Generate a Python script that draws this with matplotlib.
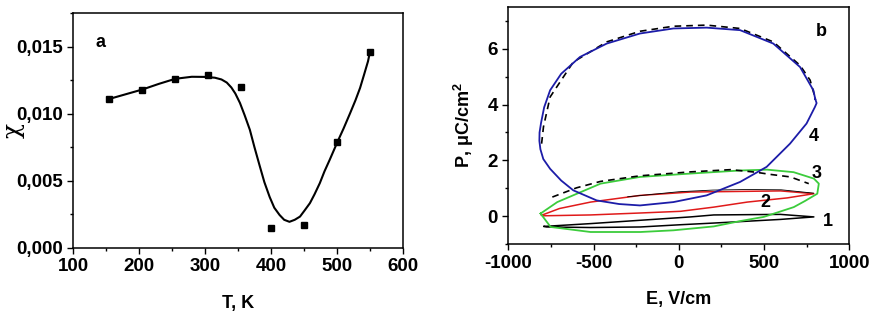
import matplotlib
matplotlib.use('Agg')
import matplotlib.pyplot as plt
from matplotlib.ticker import MultipleLocator, FuncFormatter

plt.rcParams['font.family'] = ['Liberation Sans', 'DejaVu Sans']
plt.rcParams['font.weight'] = 'bold'
plt.rcParams['axes.unicode_minus'] = False
plt.rcParams['mathtext.fontset'] = 'custom'
plt.rcParams['mathtext.rm'] = 'Liberation Sans:bold'
plt.rcParams['mathtext.bf'] = 'Liberation Sans:bold'

# panel a: susceptibility vs temperature
T_pts = [155, 205, 255, 305, 355, 400, 450, 500, 550]
chi_pts = [0.0111, 0.0118, 0.0126, 0.0129, 0.0120, 0.00147, 0.00172, 0.0079, 0.0146]

T_fit = [155, 180, 205, 230, 255, 280, 300, 315, 325, 333, 340, 346, 353, 360, 368, 375,
         383, 390, 398, 405, 413, 420, 428, 436, 444, 451, 459, 466, 474, 481, 489, 501,
         510, 520, 528, 535, 541, 547, 550]
chi_fit = [0.0111, 0.01145, 0.0118, 0.01222, 0.0126, 0.01275, 0.01274, 0.01268, 0.01255,
           0.01232, 0.01195, 0.0115, 0.0108, 0.0099, 0.0088, 0.0075, 0.0061, 0.0049,
           0.0038, 0.0030, 0.00246, 0.0021, 0.00195, 0.0021, 0.00234, 0.0028, 0.00334,
           0.0040, 0.00483, 0.0057, 0.00657, 0.00793, 0.0089, 0.01005, 0.0110, 0.01192,
           0.0129, 0.0139, 0.0146]

# panel b: hysteresis loops (E in V/cm, P in uC/cm^2)
E1 = [-790, -518, -225, 69, 205, 596, 792, 596, 205, 10, -225, -518, -775, -790]
P1 = [-0.36, -0.26, -0.14, -0.02, 0.05, 0.07, -0.02, -0.11, -0.24, -0.30, -0.38, -0.40, -0.38, -0.36]

E2 = [-805, -700, -518, -225, 69, 205, 596, 792, 636, 401, 205, 10, -225, -518, -793, -805]
P2 = [0.04, 0.28, 0.51, 0.75, 0.87, 0.88, 0.91, 0.81, 0.66, 0.51, 0.33, 0.18, 0.12, 0.05, 0.02, 0.04]
E2_ref = [-300, 0, 200, 400, 600, 790]
P2_ref = [0.70, 0.88, 0.94, 0.96, 0.95, 0.83]

E3 = [-811, -713, -459, -228, 67, 359, 518, 673, 792, 821, 812, 740, 674, 498, 359,
      205, -32, -225, -518, -752, -811]
P3 = [0.10, 0.51, 1.17, 1.41, 1.53, 1.64, 1.67, 1.58, 1.35, 1.17, 0.81, 0.55, 0.33,
      -0.02, -0.17, -0.36, -0.50, -0.56, -0.56, -0.38, 0.10]
E3_ref = [-742, -600, -459, -228, 67, 303, 450, 537, 654, 762]
P3_ref = [0.69, 1.02, 1.25, 1.45, 1.59, 1.67, 1.58, 1.50, 1.41, 1.17]

E4 = [800, 789, 711, 554, 359, 163, -32, -228, -423, -580, -690, -755, -790, -808, -817,
      -818, -812, -795, -755, -690, -619, -482, -350, -228, -32, 163, 359, 515, 652, 749,
      798, 808, 800]
P4 = [4.2, 4.51, 5.34, 6.18, 6.66, 6.75, 6.72, 6.54, 6.18, 5.70, 5.1, 4.51, 3.9, 3.35, 3.0,
      2.7, 2.4, 2.05, 1.7, 1.28, 0.93, 0.57, 0.44, 0.39, 0.51, 0.75, 1.23, 1.77, 2.60, 3.32,
      3.91, 4.05, 4.2]
E4_ref = [-805, -794, -755, -619, -423, -228, -32, 163, 359, 554, 711, 770, 798]
P4_ref = [2.6, 3.2, 4.27, 5.52, 6.24, 6.62, 6.8, 6.84, 6.72, 6.24, 5.4, 4.87, 4.27]


def comma(x, pos):
    return ('%.3f' % x).replace('.', ',')


fig = plt.figure(figsize=(8.73, 3.16), dpi=100)
ax1 = fig.add_axes([0.0836, 0.2152, 0.378, 0.7437])
ax2 = fig.add_axes([0.5823, 0.2269, 0.3906, 0.752])

ax1.plot(T_fit, chi_fit, color='black', lw=1.5)
ax1.plot(T_pts, chi_pts, 's', color='black', ms=4.5)
ax1.set_xlim(100, 600)
ax1.set_ylim(0, 0.0175)
ax1.xaxis.set_major_locator(MultipleLocator(100))
ax1.xaxis.set_minor_locator(MultipleLocator(50))
ax1.yaxis.set_major_locator(MultipleLocator(0.005))
ax1.yaxis.set_minor_locator(MultipleLocator(0.0025))
ax1.yaxis.set_major_formatter(FuncFormatter(comma))
ax1.set_xlabel('T, K', fontsize=13, fontweight='bold', labelpad=14)
ax1.text(-0.18, 0.5, 'χ', transform=ax1.transAxes, rotation=90, fontsize=18,
         fontweight='normal', family='DejaVu Serif', ha='center', va='center')
ax1.text(141, 0.0153, 'a', fontsize=13, fontweight='bold', ha='center', va='center')

ax2.plot(E1, P1, color='black', lw=1.1)
ax2.plot(E2, P2, color='#e01a1a', lw=1.1)
ax2.plot(E2_ref, P2_ref, color='black', lw=0.6)
ax2.plot(E3, P3, color='#3ccc3c', lw=1.3)
ax2.plot(E3_ref, P3_ref, color='black', lw=1.2, ls=(0, (4, 3)))
ax2.plot(E4_ref, P4_ref, color='black', lw=1.2, ls=(0, (4, 3)))
ax2.plot(E4, P4, color='#1c1ca8', lw=1.3)
ax2.set_xlim(-1000, 1000)
ax2.set_ylim(-1, 7.5)
ax2.xaxis.set_major_locator(MultipleLocator(500))
ax2.xaxis.set_minor_locator(MultipleLocator(250))
ax2.yaxis.set_major_locator(MultipleLocator(2))
ax2.yaxis.set_minor_locator(MultipleLocator(1))
ax2.set_xlabel('E, V/cm', fontsize=13, fontweight='bold', labelpad=14)
ax2.set_ylabel(r'P, μC/cm$^{2}$', fontsize=13, fontweight='bold', labelpad=8)
ax2.text(838, 6.6, 'b', fontsize=13, fontweight='bold', ha='center', va='center')
for lab, e, p in [('1', 875, -0.2), ('2', 505, 0.51), ('3', 808, 1.53), ('4', 789, 2.84)]:
    ax2.text(e, p, lab, fontsize=13, fontweight='bold', ha='center', va='center')

for ax in (ax1, ax2):
    ax.tick_params(which='major', direction='out', length=4, width=1, labelsize=13.5)
    ax.tick_params(which='minor', direction='out', length=2.5, width=1)
    for s in ax.spines.values():
        s.set_linewidth(1.1)
    for lbl in ax.get_xticklabels() + ax.get_yticklabels():
        lbl.set_fontweight('bold')

fig.savefig('out.png', dpi=100)
